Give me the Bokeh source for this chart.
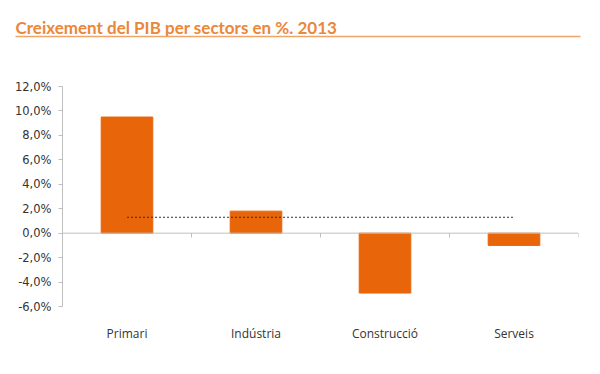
from bokeh.plotting import figure
from bokeh.layouts import column
from bokeh.models import FixedTicker, Span, FactorRange
from bokeh.core.properties import value
from bokeh.embed import file_html
from bokeh.resources import INLINE

title_text = "Creixement del PIB per sectors en %. 2013"
sectors = ["Primari", "Indústria", "Construcció", "Serveis"]
growth = [9.5, 1.8, -4.9, -1.0]
total = [1.3, 1.3, 1.3, 1.3]
y_ticks = [-6, -4, -2, 0, 2, 4, 6, 8, 10, 12]
y_tick_labels = ["-6,0%", "-4,0%", "-2,0%", "0,0%", "2,0%", "4,0%", "6,0%", "8,0%", "10,0%", "12,0%"]

BAR = "#E8650A"
TITLE = "#EA873A"
AXIS = "#BFBFBF"
TXT = "#333333"

W = 600
H1 = 48
L, R = 62, 22

# Title strip (its frame is aligned with the chart's frame, so map data = page pixels)
pt = figure(width=W, height=H1, x_range=(L, W - R), y_range=(0, H1),
            output_backend="svg", toolbar_location=None, min_border=0,
            min_border_left=L, min_border_right=R,
            x_axis_location=None, y_axis_location=None)
pt.grid.visible = False
pt.outline_line_color = None
pt.text(x=[15], y=[H1 - 27], text=[title_text], text_font=value("Lato"),
        text_font_style="bold", text_font_size="17px", text_color=TITLE,
        text_baseline="alphabetic", text_align="left", level="overlay")
pt.segment(x0=[15], y0=[H1 - 36], x1=[580], y1=[H1 - 36], line_color="#F0A468",
           line_width=1.5, level="overlay")

# Chart
H2 = 374 - H1
p = figure(width=W, height=H2, x_range=FactorRange(*sectors), y_range=(-6, 12),
           output_backend="svg", toolbar_location=None,
           min_border_left=L, min_border_right=R, min_border_top=86 - H1,
           min_border_bottom=H2 - (306 - H1))
p.outline_line_color = None
p.grid.visible = False

p.vbar(x=sectors, top=growth, bottom=0, width=0.4, fill_color=BAR, line_color=BAR)

p.add_layout(Span(location=0, dimension="width", line_color=AXIS, line_width=1))
bounds = [i + 1 for i in range(len(sectors))]
p.segment(x0=bounds, y0=[0] * len(bounds), x1=bounds, y1=[-0.35] * len(bounds),
          line_color=AXIS, line_width=1)

p.line(x=sectors, y=total, line_color=TXT, line_width=1, line_dash="2 2")

ya = p.yaxis[0]
ya.ticker = FixedTicker(ticks=y_ticks)
ya.major_label_overrides = {t: l for t, l in zip(y_ticks, y_tick_labels)}
ya.axis_line_color = AXIS
ya.major_tick_line_color = AXIS
ya.major_tick_out = 4
ya.major_tick_in = 0
ya.minor_tick_line_color = None
ya.major_label_text_font = "DejaVu Sans"
ya.major_label_text_font_size = "11.5px"
ya.major_label_text_color = TXT
ya.major_label_standoff = 7

xa = p.xaxis[0]
xa.axis_line_color = None
xa.major_tick_line_color = None
xa.minor_tick_line_color = None
xa.major_label_text_font = "Open Sans"
xa.major_label_text_font_size = "12px"
xa.major_label_text_color = TXT
xa.major_label_standoff = 12

layout = column(pt, p)
open("out.html", "w").write(file_html(layout, INLINE))
